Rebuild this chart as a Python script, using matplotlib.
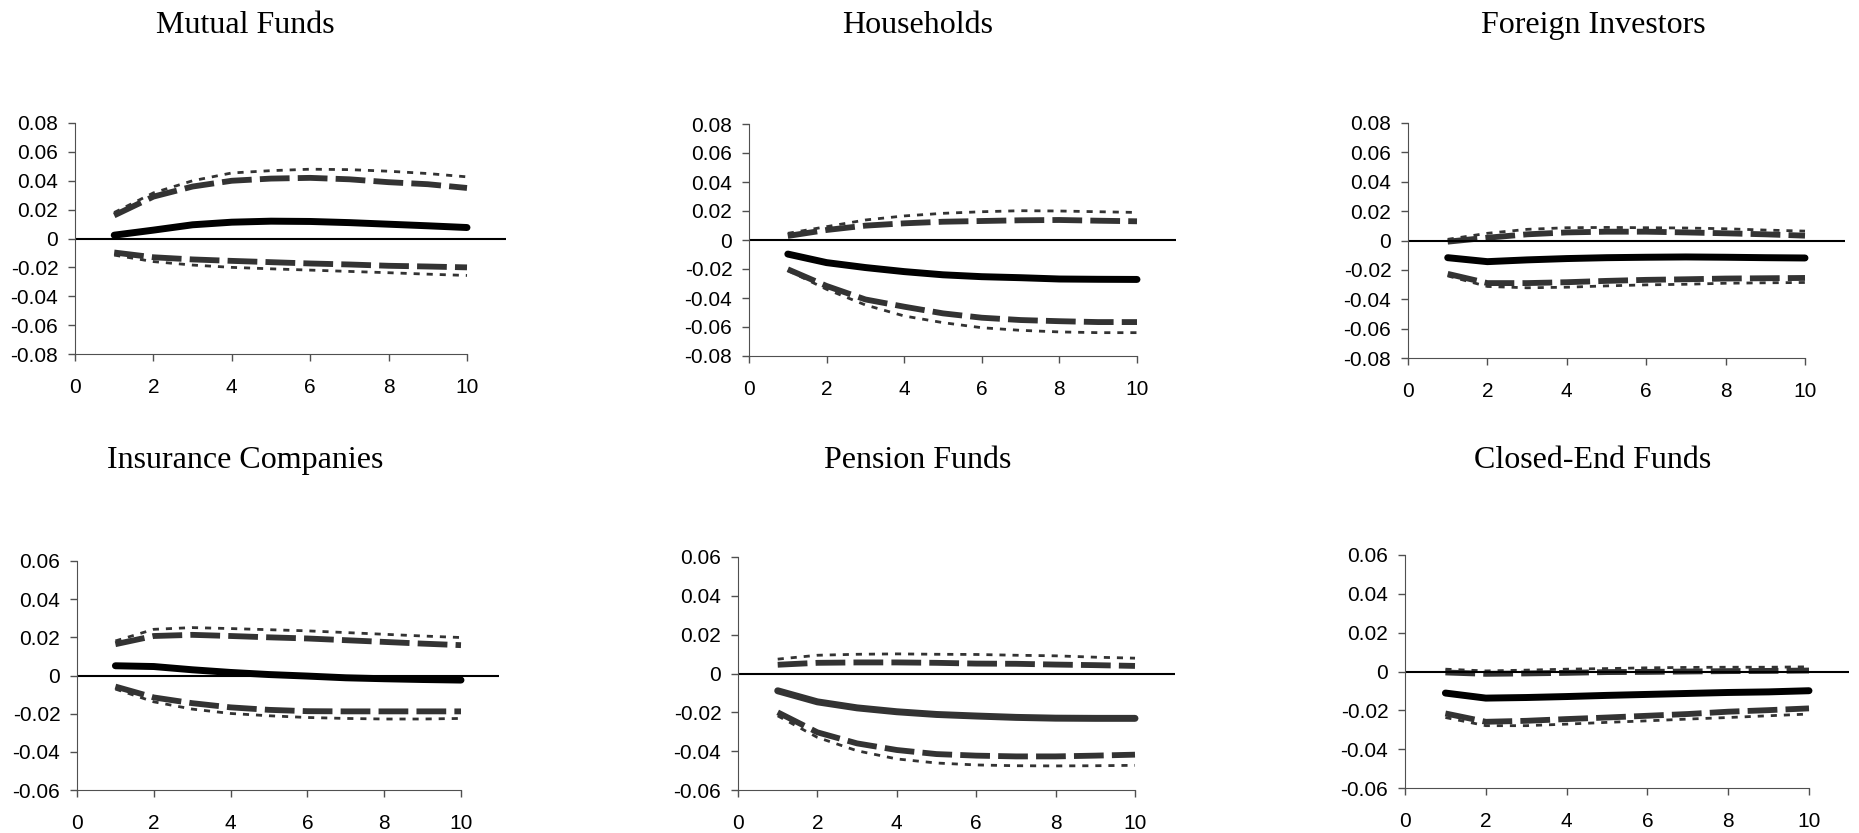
import matplotlib
matplotlib.use('Agg')
import matplotlib.pyplot as plt

# periods
periods = [1, 2, 3, 4, 5, 6, 7, 8, 9, 10]

# Mutual Funds
mf_irf = [0.0023, 0.0058, 0.0095, 0.0113, 0.0120, 0.0118, 0.0110, 0.0099, 0.0088, 0.0076]
mf_dash_hi = [0.016, 0.029, 0.036, 0.040, 0.0415, 0.042, 0.041, 0.039, 0.0376, 0.035]
mf_dash_lo = [-0.0097, -0.013, -0.0145, -0.0155, -0.0164, -0.0173, -0.018, -0.0189, -0.0194, -0.020]
mf_dot_hi = [0.018, 0.0316, 0.040, 0.0454, 0.047, 0.048, 0.0477, 0.0466, 0.045, 0.0427]
mf_dot_lo = [-0.0115, -0.016, -0.0184, -0.020, -0.021, -0.0219, -0.0228, -0.0237, -0.0247, -0.0256]

# Households
hh_irf = [-0.0097, -0.0156, -0.019, -0.0218, -0.024, -0.0253, -0.026, -0.0269, -0.0271, -0.0272]
hh_dash_hi = [0.0028, 0.0069, 0.0099, 0.0115, 0.0126, 0.0131, 0.0136, 0.0138, 0.0133, 0.0129]
hh_dash_lo = [-0.0202, -0.0317, -0.041, -0.046, -0.0506, -0.0536, -0.0552, -0.056, -0.0566, -0.0566]
hh_dot_hi = [0.0046, 0.0092, 0.0138, 0.0166, 0.0184, 0.0195, 0.0202, 0.020, 0.0195, 0.019]
hh_dot_lo = [-0.021, -0.034, -0.0448, -0.0524, -0.057, -0.0605, -0.0623, -0.0634, -0.0639, -0.0639]

# Foreign Investors
fi_irf = [-0.0117, -0.0144, -0.0132, -0.0123, -0.0117, -0.0114, -0.0112, -0.0114, -0.0117, -0.0119]
fi_dash_hi = [-0.0008, 0.0019, 0.0042, 0.0055, 0.006, 0.006, 0.0055, 0.0049, 0.0042, 0.0033]
fi_dash_lo = [-0.0227, -0.029, -0.029, -0.0284, -0.0275, -0.0268, -0.0264, -0.0259, -0.0257, -0.0255]
fi_dot_hi = [0.0008, 0.0049, 0.0076, 0.0087, 0.0089, 0.0087, 0.0085, 0.008, 0.0071, 0.0064]
fi_dot_lo = [-0.0241, -0.0313, -0.0322, -0.0318, -0.0309, -0.0302, -0.0298, -0.0291, -0.0288, -0.0286]

# Insurance Companies
ic_irf = [0.0051, 0.0047, 0.003, 0.0016, 0.0005, -0.0003, -0.0012, -0.0017, -0.0021, -0.0024]
ic_dash_hi = [0.0164, 0.0207, 0.0213, 0.0207, 0.020, 0.0194, 0.0185, 0.0176, 0.0167, 0.0159]
ic_dash_lo = [-0.0058, -0.0115, -0.0145, -0.0167, -0.018, -0.0187, -0.0188, -0.0188, -0.0188, -0.0188]
ic_dot_hi = [0.0181, 0.0242, 0.0251, 0.0246, 0.024, 0.0234, 0.0225, 0.0216, 0.0207, 0.0199]
ic_dot_lo = [-0.0071, -0.0138, -0.0176, -0.0199, -0.0211, -0.022, -0.0225, -0.0228, -0.0228, -0.0225]

# Pension Funds
pf_irf = [-0.0089, -0.0146, -0.0177, -0.0197, -0.0211, -0.0219, -0.0226, -0.023, -0.0231, -0.0231]
pf_dash_hi = [0.0045, 0.0055, 0.0057, 0.0057, 0.0055, 0.0051, 0.005, 0.0046, 0.0043, 0.0039]
pf_dash_lo = [-0.020, -0.0303, -0.036, -0.0394, -0.0415, -0.0423, -0.0427, -0.0427, -0.0423, -0.0418]
pf_dot_hi = [0.0074, 0.0094, 0.0099, 0.0101, 0.0099, 0.0098, 0.0094, 0.0091, 0.0084, 0.0079]
pf_dot_lo = [-0.0218, -0.0329, -0.0398, -0.044, -0.0461, -0.0471, -0.0475, -0.0476, -0.0475, -0.0473]

# Closed-End Funds
ce_irf = [-0.0111, -0.0137, -0.0134, -0.0129, -0.0123, -0.0118, -0.0113, -0.0108, -0.0105, -0.0099]
ce_dash_hi = [-0.0005, -0.0012, -0.001, -0.0007, -0.0003, -0.0002, 0.0, 0.0002, 0.0003, 0.0005]
ce_dash_lo = [-0.0216, -0.0259, -0.0254, -0.0245, -0.0237, -0.0228, -0.0219, -0.0207, -0.0199, -0.019]
ce_dot_hi = [0.0012, 0.0003, 0.0007, 0.0012, 0.0015, 0.0019, 0.0021, 0.0022, 0.0022, 0.0024]
ce_dot_lo = [-0.0237, -0.0279, -0.0279, -0.0271, -0.0262, -0.0254, -0.0245, -0.0237, -0.0228, -0.0219]

titles = ['Mutual Funds', 'Households', 'Foreign Investors',
          'Insurance Companies', 'Pension Funds', 'Closed-End Funds']
series = [
    (mf_irf, mf_dash_hi, mf_dash_lo, mf_dot_hi, mf_dot_lo),
    (hh_irf, hh_dash_hi, hh_dash_lo, hh_dot_hi, hh_dot_lo),
    (fi_irf, fi_dash_hi, fi_dash_lo, fi_dot_hi, fi_dot_lo),
    (ic_irf, ic_dash_hi, ic_dash_lo, ic_dot_hi, ic_dot_lo),
    (pf_irf, pf_dash_hi, pf_dash_lo, pf_dot_hi, pf_dot_lo),
    (ce_irf, ce_dash_hi, ce_dash_lo, ce_dot_hi, ce_dot_lo),
]
ylims = [0.08, 0.08, 0.08, 0.06, 0.06, 0.06]
solid_colors = ['k', 'k', 'k', 'k', '#333333', 'k']

W, H = 1859, 833
# axes boxes in pixels: left (x=0), top, x=10 position, bottom
boxes = [(75, 123, 467, 354), (749, 124, 1137, 356), (1408, 123, 1805, 358),
         (77, 561, 461, 790), (738, 557, 1135, 790), (1405, 555, 1809, 788)]
title_pos = [(245, 33), (918, 33), (1593, 33), (245, 468), (918, 468), (1593, 468)]

fig = plt.figure(figsize=(W / 100, H / 100), dpi=100)
axis_grey = '#505050'

for i in range(6):
    l, t, r, b = boxes[i]
    w11 = (r - l) * 1.1
    ax = fig.add_axes([l / W, 1 - b / H, w11 / W, (b - t) / H])
    irf, dh, dl, th, tl = series[i]

    for band in (th, tl):
        ax.plot(periods, band, color='#333333', lw=2.0, dashes=(2.2, 2.5))
    for band in (dh, dl):
        ax.plot(periods, band, color='#333333', lw=4.2, dashes=(5.1, 1.4))
    ax.plot(periods, irf, color=solid_colors[i], lw=5.0, solid_capstyle='round')
    ax.axhline(0, color='k', lw=1.5)

    yl = ylims[i]
    ax.set_xlim(0, 11)
    ax.set_ylim(-yl, yl)
    ax.set_xticks([0, 2, 4, 6, 8, 10])
    yt = [round(-yl + k * 0.02, 2) for k in range(int(round(2 * yl / 0.02)) + 1)]
    ax.set_yticks(yt)
    ax.set_yticklabels(['0' if abs(v) < 1e-9 else ('%.2f' % v) for v in yt])
    for s in ['top', 'right']:
        ax.spines[s].set_visible(False)
    ax.spines['bottom'].set_bounds(0, 10)
    ax.spines['left'].set_color(axis_grey)
    ax.spines['bottom'].set_color(axis_grey)
    ax.tick_params(axis='x', direction='out', length=5, width=1, color=axis_grey, pad=12,
                   labelsize=15)
    ax.tick_params(axis='y', direction='out', length=5, width=1, color=axis_grey, pad=7,
                   labelsize=15)
    for lab in ax.get_xticklabels() + ax.get_yticklabels():
        lab.set_fontfamily('Liberation Sans')
    ax.patch.set_visible(False)

    tx, ty = title_pos[i]
    fig.text(tx / W, 1 - ty / H, titles[i], ha='center', va='baseline',
             fontsize=23, family='Liberation Serif')

plt.savefig('out.png', dpi=100)
